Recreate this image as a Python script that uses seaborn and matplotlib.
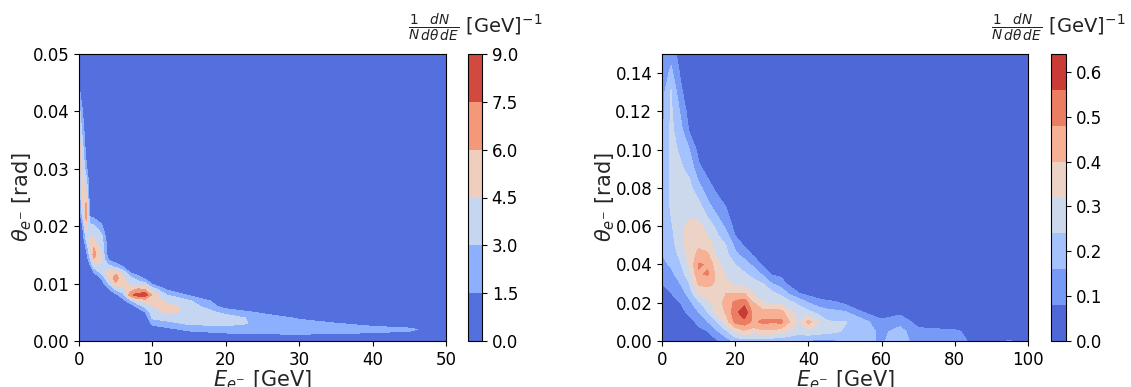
import numpy as np
import matplotlib
matplotlib.use("Agg")
import matplotlib.pyplot as plt
import seaborn as sns
from matplotlib.ticker import FormatStrFormatter

# ---- left panel: E in GeV, theta nodes in mrad, one column of values per energy node
left_energy = [0, 0.5, 1, 1.5, 2, 3, 4, 5, 6, 7, 8, 9, 10, 12, 15, 20, 25, 30, 35, 40, 45, 50]
left_theta_mrad = [0, 1, 2, 3, 4, 5, 6, 7, 8, 9, 10, 11, 12, 13, 14, 15, 16,
                   18, 20, 22, 24, 26, 28, 30, 33, 36, 40, 45, 50]
left_columns = [
    [0] * 20 + [0.5, 1.8, 3.8, 4.8, 5.3, 4.6, 3.6, 1.3, 0],
    [0] * 17 + [0.5, 1.5, 3.6, 4.6, 4.8, 5.0, 4.4, 3.6, 2.6, 1.4, 0, 0],
    [0] * 14 + [0.3, 0.8, 1.6, 3.6, 5.2, 7.0, 6.2, 4.2, 3.4, 1.8, 0.6, 0, 0, 0, 0],
    [0] * 12 + [0.3, 1.0, 2.4, 3.6, 4.2, 4.6, 3.6, 1.0, 0.3] + [0] * 8,
    [0] * 11 + [0.3, 1.5, 3.6, 5.6, 6.6, 6.2, 4.4, 3.2, 0.8] + [0] * 9,
    [0] * 10 + [0.3, 1.6, 3.4, 4.2, 4.8, 4.6, 4.2, 3.8, 1.8, 0.5] + [0] * 9,
    [0] * 8 + [0.2, 1.2, 3.0, 4.4, 5.2, 3.6, 1.6, 0.8, 0.5, 0.3] + [0] * 11,
    [0] * 7 + [0.2, 1.0, 3.2, 5.8, 6.8, 5.6, 2.4, 0.8, 0.3] + [0] * 13,
    [0] * 6 + [0.2, 1.0, 2.4, 4.0, 5.2, 4.8, 3.8, 1.4, 0.3] + [0] * 14,
    [0] * 5 + [0.1, 0.6, 2.4, 7.0, 5.2, 4.0, 3.4, 1.2, 0.3] + [0] * 15,
    [0] * 5 + [0.4, 1.8, 4.6, 8.2, 6.2, 3.8, 2.2, 0.6] + [0] * 16,
    [0] * 4 + [0.3, 1.4, 3.2, 5.0, 8.4, 6.0, 3.4, 1.0, 0.2] + [0] * 16,
    [0, 0.2, 0.6, 1.8, 3.2, 3.8, 4.4, 5.2, 5.6, 3.8, 1.2, 0.3] + [0] * 17,
    [0, 0.4, 1.0, 2.4, 3.6, 4.9, 5.0, 4.2, 3.0, 1.3, 0.4] + [0] * 18,
    [0, 0.6, 1.8, 3.2, 3.8, 4.2, 4.0, 3.2, 1.3, 0.3] + [0] * 19,
    [0, 0.9, 2.4, 3.3, 3.7, 2.6, 0.8, 0.2] + [0] * 21,
    [0, 1.2, 2.4, 2.8, 2.4, 1.2, 0.3] + [0] * 22,
    [0, 1.3, 2.4, 2.2, 1.3, 0.4] + [0] * 23,
    [0, 1.2, 2.2, 1.6, 0.6] + [0] * 24,
    [0, 1.1, 2.0, 1.1, 0.2] + [0] * 24,
    [0, 0.8, 1.8, 0.6] + [0] * 25,
    [0, 0.3, 0.4, 0.2] + [0] * 25,
]
left_levels = [0, 1.5, 3.0, 4.5, 6.0, 7.5, 9.0]

# ---- right panel
right_energy = [0, 2.5, 5, 7.5, 10, 12.5, 15, 17.5, 20, 22.5, 25, 27.5, 30, 32.5, 35,
                37.5, 40, 42.5, 45, 47.5, 50, 55, 60, 65, 70, 75, 80, 85, 90, 95, 100]
right_theta_mrad = [0, 5, 10, 15, 20, 25, 30, 35, 40, 45, 50, 55, 60,
                    70, 80, 90, 100, 110, 120, 130, 140, 150]
right_columns = [
    [0, 0.01, 0.02, 0.04, 0.055, 0.07, 0.08, 0.11, 0.14, 0.16, 0.17, 0.18, 0.18, 0.18, 0.17, 0.16, 0.14, 0.14, 0.13, 0.12, 0.10, 0.09],
    [0.01, 0.02, 0.04, 0.055, 0.07, 0.08, 0.11, 0.14, 0.17, 0.19, 0.21, 0.22, 0.23, 0.25, 0.26, 0.26, 0.26, 0.26, 0.25, 0.25, 0.18, 0.13],
    [0.02, 0.035, 0.05, 0.065, 0.08, 0.12, 0.16, 0.20, 0.23, 0.26, 0.28, 0.29, 0.30, 0.29, 0.27, 0.25, 0.23, 0.19, 0.15, 0.10, 0.07, 0.04],
    [0.03, 0.045, 0.065, 0.09, 0.14, 0.19, 0.24, 0.29, 0.33, 0.36, 0.37, 0.36, 0.34, 0.29, 0.26, 0.22, 0.16, 0.07, 0.04, 0.02, 0.01, 0],
    [0.04, 0.07, 0.09, 0.16, 0.22, 0.34, 0.41, 0.47, 0.49, 0.42, 0.39, 0.37, 0.34, 0.27, 0.19, 0.10, 0.05, 0.02, 0.01],
    [0.06, 0.08, 0.16, 0.24, 0.30, 0.36, 0.42, 0.49, 0.47, 0.41, 0.37, 0.32, 0.28, 0.19, 0.11, 0.05, 0.02],
    [0.07, 0.15, 0.24, 0.34, 0.37, 0.39, 0.39, 0.37, 0.34, 0.31, 0.28, 0.25, 0.22, 0.12, 0.06, 0.02],
    [0.12, 0.22, 0.36, 0.41, 0.42, 0.40, 0.34, 0.31, 0.29, 0.26, 0.24, 0.19, 0.14, 0.08, 0.03],
    [0.18, 0.33, 0.50, 0.53, 0.50, 0.40, 0.30, 0.27, 0.24, 0.18, 0.14, 0.08, 0.05, 0.02],
    [0.20, 0.38, 0.53, 0.62, 0.53, 0.40, 0.30, 0.25, 0.20, 0.13, 0.07, 0.04, 0.02],
    [0.20, 0.36, 0.46, 0.45, 0.40, 0.31, 0.27, 0.21, 0.14, 0.07, 0.03],
    [0.18, 0.38, 0.50, 0.43, 0.32, 0.29, 0.24, 0.15, 0.07, 0.03],
    [0.18, 0.38, 0.49, 0.44, 0.31, 0.26, 0.16, 0.07, 0.03],
    [0.17, 0.36, 0.50, 0.43, 0.30, 0.22, 0.12, 0.06, 0.02],
    [0.16, 0.32, 0.39, 0.34, 0.26, 0.14, 0.05, 0.02],
    [0.15, 0.28, 0.31, 0.28, 0.22, 0.08, 0.03],
    [0.15, 0.30, 0.43, 0.26, 0.16, 0.05],
    [0.14, 0.28, 0.33, 0.22, 0.12, 0.03],
    [0.14, 0.27, 0.25, 0.19, 0.10, 0.02],
    [0.15, 0.25, 0.24, 0.18, 0.09],
    [0.16, 0.23, 0.245, 0.17, 0.06],
    [0.18, 0.20, 0.19, 0.08, 0.02],
    [0.15, 0.14, 0.10, 0.03],
    [0.20, 0.19, 0.13, 0.06],
    [0.12, 0.10, 0.05],
    [0.11, 0.095, 0.04],
    [0.10, 0.09, 0.03],
    [0.07, 0.06, 0.02],
    [0.06, 0.02],
    [0.085, 0.03],
    [0.03],
]
right_levels = [0, 0.08, 0.16, 0.24, 0.32, 0.40, 0.48, 0.56, 0.64]

cbar_title = r'$\frac{1}{N}\frac{dN}{d\theta\,dE}$ [GeV]$^{-1}$'


def to_grid(columns, n_theta):
    # columns may stop early; the rest of each column is empty
    cols = [c + [0] * (n_theta - len(c)) for c in columns]
    return np.array(cols).T


sns.set_theme(style="ticks", rc={
    "axes.linewidth": 0.8, "xtick.major.size": 3.5, "ytick.major.size": 3.5,
    "xtick.major.width": 0.8, "ytick.major.width": 0.8,
    "axes.edgecolor": "black", "text.color": "#222222",
    "xtick.color": "black", "ytick.color": "black",
})
plt.rcParams['font.family'] = ['DejaVu Sans']
plt.rcParams['mathtext.fontset'] = 'dejavusans'
cmap = sns.color_palette("coolwarm", as_cmap=True)

W, H = 1131, 387
fig = plt.figure(figsize=(W / 100, H / 100), dpi=100)
ax1 = fig.add_axes([79 / W, 46 / H, 367 / W, 287 / H])
cax1 = fig.add_axes([468 / W, 46 / H, 14 / W, 287 / H])
ax2 = fig.add_axes([662 / W, 46 / H, 366 / W, 287 / H])
cax2 = fig.add_axes([1051 / W, 46 / H, 15 / W, 287 / H])


def draw(ax, cax, energy, theta_mrad, columns, levels, xlim, ylim, xticks, yticks, cticks):
    theta = np.array(theta_mrad) / 1000.0
    Z = to_grid(columns, len(theta_mrad))
    cs = ax.contourf(energy, theta, Z, levels=levels, cmap=cmap)
    ax.set_xlim(*xlim)
    ax.set_ylim(*ylim)
    ax.set_xticks(xticks)
    ax.set_yticks(yticks)
    ax.yaxis.set_major_formatter(FormatStrFormatter('%.2f'))
    ax.tick_params(labelsize=12)
    ax.set_xlabel(r'$E_{e^{-}}$ [GeV]', fontsize=15, labelpad=0)
    ax.set_ylabel(r'$\theta_{e^{-}}$ [rad]', fontsize=15, labelpad=-1)
    cb = fig.colorbar(cs, cax=cax, ticks=cticks)
    cb.ax.yaxis.set_major_formatter(FormatStrFormatter('%.1f'))
    cb.ax.tick_params(labelsize=12)
    cb.outline.set_linewidth(0.8)
    cax.set_title(cbar_title, fontsize=14, pad=15)


draw(ax1, cax1, left_energy, left_theta_mrad, left_columns, left_levels,
     (0, 50), (0, 0.05), [0, 10, 20, 30, 40, 50],
     [0, 0.01, 0.02, 0.03, 0.04, 0.05], left_levels)
draw(ax2, cax2, right_energy, right_theta_mrad, right_columns, right_levels,
     (0, 100), (0, 0.15), [0, 20, 40, 60, 80, 100],
     [0, 0.02, 0.04, 0.06, 0.08, 0.10, 0.12, 0.14], [0, 0.1, 0.2, 0.3, 0.4, 0.5, 0.6])

fig.savefig("out.png", dpi=100)
